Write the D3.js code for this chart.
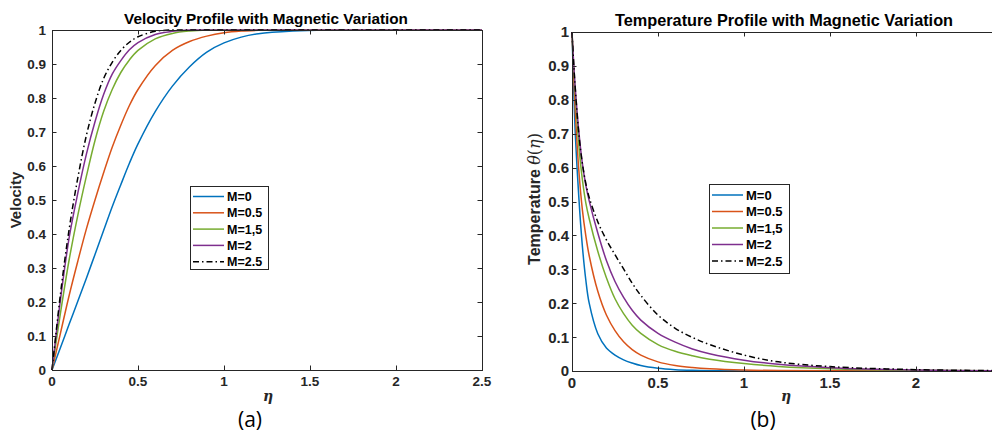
<!DOCTYPE html>
<meta charset="utf-8">
<style>
  body { margin: 0; background: #fff; }
  svg { display: block; font-family: "Liberation Sans", Arial, sans-serif; }
  .tick-label { font-weight: bold; fill: #262626; }
  .title { font-weight: bold; fill: #000; }
  .leg-text { font-weight: bold; fill: #000; }
  .frame { fill: none; stroke: #262626; stroke-width: 1; }
</style>
<body>
<svg width="992" height="434"></svg>
<script src="https://d3js.org/d3.v7.min.js"></script>
<script>
// legend labels (as printed in the figure)
var seriesNames = ["M=0", "M=0.5", "M=1,5", "M=2", "M=2.5"];
var seriesColors = ["#0072BD", "#D95319", "#77AC30", "#7E2F8E", "#000000"];

var xTicks = [0, 0.5, 1, 1.5, 2, 2.5];
var yTicks = [0, 0.1, 0.2, 0.3, 0.4, 0.5, 0.6, 0.7, 0.8, 0.9, 1];

// panel (a): velocity f'(eta)
var velEta = [0, 0.05, 0.1, 0.15, 0.2, 0.25, 0.3, 0.35, 0.4, 0.45, 0.5, 0.6, 0.7, 0.8, 0.9, 1.0, 1.1, 1.2, 1.4, 1.6, 2.0, 2.5];
var velM0  = [0, 0.067, 0.135, 0.202, 0.27, 0.34, 0.41, 0.48, 0.545, 0.608, 0.665, 0.76, 0.835, 0.892, 0.935, 0.962, 0.979, 0.989, 0.997, 1, 1, 1];
var velM05 = [0, 0.11, 0.22, 0.32, 0.415, 0.5, 0.58, 0.655, 0.72, 0.778, 0.825, 0.895, 0.94, 0.966, 0.982, 0.992, 0.997, 0.999, 1, 1, 1, 1];
var velM15 = [0, 0.17, 0.325, 0.455, 0.57, 0.675, 0.76, 0.825, 0.875, 0.912, 0.94, 0.974, 0.99, 0.997, 1, 1, 1, 1, 1, 1, 1, 1];
var velM2  = [0, 0.21, 0.39, 0.52, 0.635, 0.73, 0.81, 0.87, 0.91, 0.942, 0.963, 0.987, 0.996, 1, 1, 1, 1, 1, 1, 1, 1, 1];
var velM25 = [0, 0.227, 0.415, 0.565, 0.69, 0.785, 0.857, 0.905, 0.94, 0.964, 0.98, 0.996, 1, 1, 1, 1, 1, 1, 1, 1, 1, 1];

// panel (b): temperature theta(eta)
var tempEta = [0, 0.01, 0.02, 0.04, 0.06, 0.08, 0.1, 0.15, 0.2, 0.25, 0.3, 0.35, 0.4, 0.5, 0.6, 0.7, 0.8, 1.0, 1.2, 1.5, 2.0, 2.5];
var tempM0  = [1, 0.83, 0.69, 0.51, 0.37, 0.27, 0.2, 0.11, 0.068, 0.047, 0.033, 0.0235, 0.016, 0.008, 0.004, 0.002, 0.001, 0.0003, 0, 0, 0, 0];
var tempM05 = [1, 0.87, 0.756, 0.59, 0.477, 0.4, 0.34, 0.235, 0.165, 0.119, 0.086, 0.063, 0.047, 0.027, 0.0162, 0.0103, 0.0067, 0.003, 0.0013, 0.0005, 0.0001, 0];
var tempM15 = [1, 0.896, 0.81, 0.664, 0.566, 0.497, 0.449, 0.353, 0.275, 0.213, 0.169, 0.135, 0.111, 0.078, 0.058, 0.045, 0.035, 0.022, 0.0136, 0.0067, 0.002, 0.0006];
var tempM2  = [1, 0.905, 0.827, 0.705, 0.613, 0.549, 0.502, 0.407, 0.326, 0.264, 0.217, 0.179, 0.15, 0.111, 0.085, 0.065, 0.051, 0.032, 0.0196, 0.0098, 0.003, 0.0009];
var tempM25 = [1, 0.905, 0.827, 0.698, 0.613, 0.554, 0.512, 0.44, 0.387, 0.343, 0.301, 0.259, 0.223, 0.165, 0.126, 0.099, 0.078, 0.047, 0.027, 0.013, 0.004, 0.001];

var velSeries = [velM0, velM05, velM15, velM2, velM25];
var tempSeries = [tempM0, tempM05, tempM15, tempM2, tempM25];

var svg = d3.select("svg");
svg.append("rect").attr("width", 992).attr("height", 434).attr("fill", "#fff");

function panel(opt) {
  var x = d3.scaleLinear().domain([0, 2.5]).range([opt.left, opt.right]);
  var y = d3.scaleLinear().domain([0, 1]).range([opt.bottom, opt.top]);
  var g = svg.append("g");

  var line = d3.line()
      .x(function(d, i) { return x(opt.eta[i]); })
      .y(function(d) { return y(d); })
      .curve(d3.curveCatmullRom.alpha(0.5));

  opt.series.forEach(function(s, i) {
    g.append("path")
      .datum(s)
      .attr("fill", "none")
      .attr("stroke", seriesColors[i])
      .attr("stroke-width", 1.5)
      .attr("stroke-dasharray", i == 4 ? "6,3,1.5,3" : null)
      .attr("d", line);
  });

  // frame + inward ticks on all sides
  g.append("rect").attr("class", "frame")
    .attr("x", opt.left + 0.5).attr("y", opt.top + 0.5)
    .attr("width", opt.right - opt.left).attr("height", opt.bottom - opt.top);

  var tl = 4.5;
  xTicks.forEach(function(t) {
    var px = Math.round(x(t)) + 0.5;
    g.append("line").attr("x1", px).attr("x2", px).attr("y1", opt.bottom).attr("y2", opt.bottom - tl).attr("stroke", "#262626");
    g.append("line").attr("x1", px).attr("x2", px).attr("y1", opt.top).attr("y2", opt.top + tl).attr("stroke", "#262626");
    if (x(t) > 985) return; // off the visible page
    g.append("text").attr("class", "tick-label")
      .attr("x", x(t)).attr("y", opt.bottom + 5 + opt.fs * 0.8)
      .attr("text-anchor", "middle").style("font-size", opt.fs + "px")
      .text(t);
  });
  yTicks.forEach(function(t) {
    var py = Math.round(y(t)) + 0.5;
    g.append("line").attr("y1", py).attr("y2", py).attr("x1", opt.left).attr("x2", opt.left + tl).attr("stroke", "#262626");
    g.append("line").attr("y1", py).attr("y2", py).attr("x1", opt.right).attr("x2", opt.right - tl).attr("stroke", "#262626");
    g.append("text").attr("class", "tick-label")
      .attr("x", opt.left - opt.labGap).attr("y", y(t) + opt.fs * 0.36)
      .attr("text-anchor", "end").style("font-size", opt.fs + "px")
      .text(t);
  });

  g.append("text").attr("class", "title")
    .attr("x", opt.titleX).attr("y", opt.titleY)
    .attr("text-anchor", "middle").style("font-size", opt.titleFs + "px")
    .text(opt.title);

  // x label
  g.append("text")
    .attr("x", opt.etaX).attr("y", 401)
    .attr("text-anchor", "middle")
    .style("font-family", "'DejaVu Serif', serif").style("font-style", "italic")
    .style("font-weight", "bold").style("font-size", "14px").attr("fill", "#262626")
    .text("\u03b7");

  // y label
  var yl = g.append("text")
    .attr("transform", "translate(" + opt.ylabX + "," + opt.ylabY + ") rotate(-90)")
    .attr("text-anchor", "middle")
    .style("font-weight", "bold").style("font-size", opt.ylabFs + "px").attr("fill", "#262626");
  opt.ylab(yl);

  // (a) / (b)
  g.append("text")
    .attr("x", opt.capX).attr("y", 427)
    .attr("text-anchor", "middle")
    .style("font-family", "'Open Sans', sans-serif").style("font-size", "21px").attr("fill", "#000")
    .text(opt.caption);

  // legend
  var lg = opt.legend;
  g.append("rect")
    .attr("x", lg.x + 0.5).attr("y", lg.y + 0.5).attr("width", lg.w).attr("height", lg.h)
    .attr("fill", "#fff").attr("stroke", "#262626").attr("stroke-width", 1);
  seriesNames.forEach(function(n, i) {
    var ey = lg.y + lg.first + i * lg.step;
    g.append("line")
      .attr("x1", lg.x + 3).attr("x2", lg.x + 3 + lg.lineLen)
      .attr("y1", ey).attr("y2", ey)
      .attr("stroke", seriesColors[i]).attr("stroke-width", 1.5)
      .attr("stroke-dasharray", i == 4 ? "6,3,1.5,3" : null);
    g.append("text").attr("class", "leg-text")
      .attr("x", lg.x + lg.lineLen + 6).attr("y", ey + lg.fs * 0.36)
      .style("font-size", lg.fs + "px")
      .text(n);
  });
}

panel({
  left: 52, right: 482, top: 30, bottom: 370,
  eta: velEta, series: velSeries, fs: 13.5, labGap: 6,
  title: "Velocity Profile with Magnetic Variation", titleX: 266, titleY: 24, titleFs: 15.3,
  etaX: 268, capX: 250, caption: "(a)",
  ylabX: 21, ylabY: 200, ylabFs: 15,
  ylab: function(t) { t.text("Velocity"); },
  legend: { x: 190, y: 186, w: 78, h: 83, first: 10.5, step: 16.3, lineLen: 31, fs: 12.5 }
});

panel({
  left: 572, right: 1002, top: 32, bottom: 371,
  eta: tempEta, series: tempSeries, fs: 15, labGap: 3,
  title: "Temperature Profile with Magnetic Variation", titleX: 784, titleY: 26, titleFs: 16.3,
  etaX: 786, capX: 763, caption: "(b)",
  ylabX: 540, ylabY: 199, ylabFs: 16,
  ylab: function(t) {
    t.append("tspan").text("Temperature  ");
    t.append("tspan").style("font-family", "'DejaVu Serif', serif").style("font-style", "italic").style("font-weight", "normal").text("\u03b8");
    t.append("tspan").style("font-family", "'DejaVu Serif', serif").style("font-weight", "normal").text("(");
    t.append("tspan").style("font-family", "'DejaVu Serif', serif").style("font-style", "italic").style("font-weight", "normal").text("\u03b7");
    t.append("tspan").style("font-family", "'DejaVu Serif', serif").style("font-weight", "normal").text(")");
  },
  legend: { x: 709, y: 184, w: 80, h: 89, first: 11, step: 16.5, lineLen: 31, fs: 13 }
});
</script>
</body>
